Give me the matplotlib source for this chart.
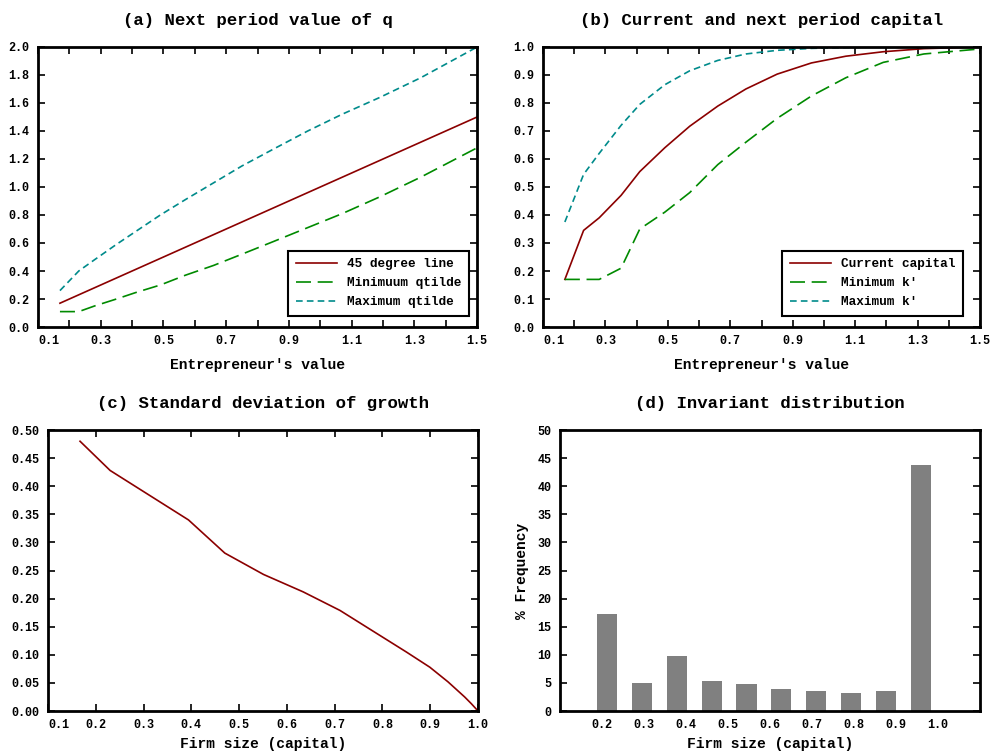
import numpy as np
import matplotlib
matplotlib.use("Agg")
import matplotlib.pyplot as plt

plt.rcParams['font.family'] = ['Liberation Mono', 'DejaVu Sans Mono']
plt.rcParams['font.weight'] = 'bold'
plt.rcParams['axes.titleweight'] = 'bold'
plt.rcParams['axes.labelweight'] = 'bold'

# (a) and (b): entrepreneur's value grid
qval = [0.17, 0.23, 0.28, 0.35, 0.41, 0.49, 0.57, 0.66, 0.75, 0.85, 0.96, 1.07, 1.19, 1.32, 1.5]
q45 = [0.17, 0.23, 0.28, 0.35, 0.41, 0.49, 0.57, 0.66, 0.75, 0.85, 0.96, 1.07, 1.19, 1.32, 1.5]
qmin = [0.11, 0.11, 0.15, 0.20, 0.245, 0.30, 0.37, 0.44, 0.52, 0.61, 0.71, 0.81, 0.93, 1.07, 1.28]
qmax = [0.26, 0.40, 0.48, 0.59, 0.68, 0.80, 0.91, 1.03, 1.15, 1.27, 1.40, 1.52, 1.64, 1.78, 2.0]

kcur = [0.17, 0.345, 0.39, 0.47, 0.555, 0.64, 0.717, 0.789, 0.85, 0.903, 0.943, 0.967, 0.983, 0.994, 1.0]
kmin = [0.17, 0.17, 0.17, 0.21, 0.35, 0.41, 0.48, 0.58, 0.66, 0.745, 0.825, 0.89, 0.945, 0.975, 0.993]
kmax = [0.375, 0.545, 0.62, 0.72, 0.795, 0.865, 0.915, 0.952, 0.975, 0.988, 0.995, 0.998, 1.0, 1.0, 1.0]

# (c) std dev of growth vs firm size
size_c = [0.167, 0.23, 0.394, 0.47, 0.551, 0.634, 0.711, 0.788, 0.85, 0.899, 0.937, 0.972, 0.986, 1.0]
sd_c = [0.48, 0.428, 0.34, 0.281, 0.243, 0.212, 0.179, 0.138, 0.105, 0.078, 0.052, 0.025, 0.013, 0.0]

# (d) invariant distribution
bins_d = [0.212, 0.295, 0.378, 0.461, 0.544, 0.627, 0.710, 0.793, 0.876, 0.959]
freq_d = [17.3, 5.05, 9.75, 5.3, 4.87, 3.92, 3.62, 3.27, 3.62, 43.8]

red = '#8b0000'
green = '#008a00'
teal = '#008b8b'

fig = plt.figure(figsize=(9.92, 7.54), dpi=100)
axa = fig.add_axes([0.0383, 0.5663, 0.4427, 0.3714])
axb = fig.add_axes([0.5474, 0.5663, 0.4405, 0.3714])
axc = fig.add_axes([0.0484, 0.0570, 0.4335, 0.3727])
axd = fig.add_axes([0.5645, 0.0570, 0.4234, 0.3727])


def style(ax):
    for s in ax.spines.values():
        s.set_linewidth(2.0)
    ax.tick_params(direction='in', top=True, right=True, length=5, width=1.2,
                   labelsize=8.5, pad=6)


def qticks(ax):
    ticks = np.round(np.arange(0.1, 1.51, 0.1), 1)
    ax.set_xticks(ticks)
    ax.set_xticklabels([('%.1f' % t) if i % 2 == 0 else '' for i, t in enumerate(ticks)])
    ax.get_xticklabels()[0].set_horizontalalignment('left')
    ax.set_xlim(0.1, 1.5)


def legend(ax, anchor):
    leg = ax.legend(loc='lower right', bbox_to_anchor=anchor, borderaxespad=0,
                    fancybox=False, edgecolor='black', fontsize=9.2, handlelength=3.2,
                    labelspacing=0.55, borderpad=0.6, framealpha=1)
    leg.get_frame().set_linewidth(1.5)


# (a)
axa.plot(qval, q45, color=red, lw=1.2, label='45 degree line')
axa.plot(qval, qmin, color=green, lw=1.2, dashes=(9, 4), label='Minimuum qtilde')
axa.plot(qval, qmax, color=teal, lw=1.2, dashes=(4, 2.5), label='Maximum qtilde')
axa.set_ylim(0, 2.0)
axa.set_yticks(np.arange(0, 2.01, 0.2))
axa.set_yticklabels(['%.1f' % v for v in np.arange(0, 2.01, 0.2)])
qticks(axa)
style(axa)
axa.set_xlabel("Entrepreneur's value", fontsize=10.5, labelpad=8)
axa.set_title('(a) Next period value of q', fontsize=12.5, pad=16)
legend(axa, (0.982, 0.039))

# (b)
axb.plot(qval, kcur, color=red, lw=1.2, label='Current capital')
axb.plot(qval, kmin, color=green, lw=1.2, dashes=(9, 4), label='Minimum k\'')
axb.plot(qval, kmax, color=teal, lw=1.2, dashes=(4, 2.5), label='Maximum k\'')
axb.set_ylim(0, 1.0)
axb.set_yticks(np.arange(0, 1.01, 0.1))
axb.set_yticklabels(['%.1f' % v for v in np.arange(0, 1.01, 0.1)])
qticks(axb)
style(axb)
axb.set_xlabel("Entrepreneur's value", fontsize=10.5, labelpad=8)
axb.set_title('(b) Current and next period capital', fontsize=12.5, pad=16)
legend(axb, (0.961, 0.039))

# (c)
axc.plot(size_c, sd_c, color=red, lw=1.2)
axc.set_xlim(0.1, 1.0)
axc.set_ylim(0, 0.5)
axc.set_xticks(np.arange(0.1, 1.01, 0.1))
axc.set_xticklabels(['%.1f' % v for v in np.arange(0.1, 1.01, 0.1)])
axc.get_xticklabels()[0].set_horizontalalignment('left')
axc.set_yticks(np.arange(0, 0.501, 0.05))
axc.set_yticklabels(['%.2f' % v for v in np.arange(0, 0.501, 0.05)])
style(axc)
axc.set_xlabel('Firm size (capital)', fontsize=10.5, labelpad=4)
axc.set_title('(c) Standard deviation of growth', fontsize=12.5, pad=16)

# (d)
axd.bar(bins_d, freq_d, width=0.048, color='#808080')
axd.set_xlim(0.1, 1.1)
axd.set_ylim(0, 50)
axd.set_xticks(np.arange(0.2, 1.01, 0.1))
axd.set_xticklabels(['%.1f' % v for v in np.arange(0.2, 1.01, 0.1)])
axd.set_yticks(np.arange(0, 51, 5))
style(axd)
axd.tick_params(axis='x', length=0, top=False)
axd.set_xlabel('Firm size (capital)', fontsize=10.5, labelpad=4)
axd.set_ylabel('% Frequency', fontsize=10.5, labelpad=6)
axd.set_title('(d) Invariant distribution', fontsize=12.5, pad=16)

fig.savefig('out.png', dpi=100)
